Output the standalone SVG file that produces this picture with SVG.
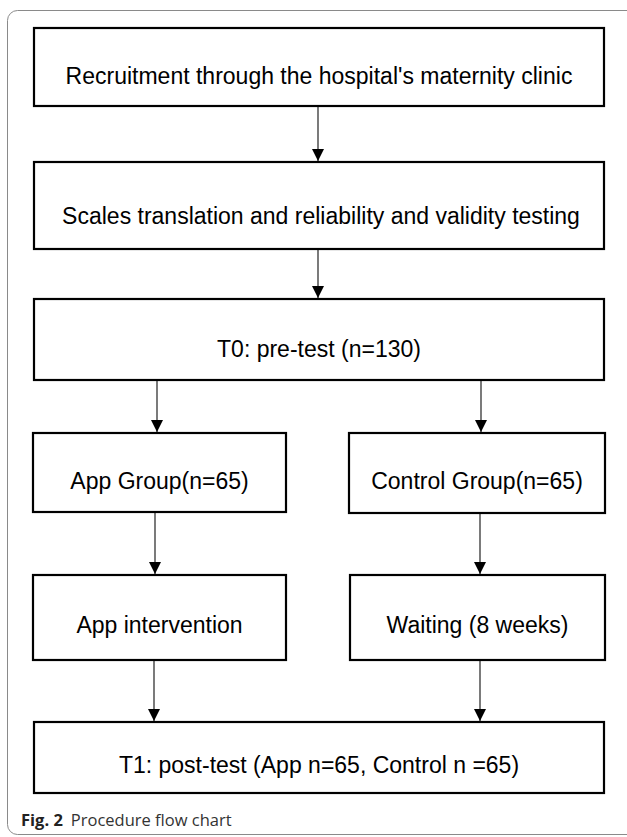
<svg xmlns="http://www.w3.org/2000/svg" width="627" height="837" viewBox="0 0 627 837">
  <defs>
    <marker id="ah" viewBox="0 0 12 12" refX="12" refY="6" markerWidth="12" markerHeight="12" markerUnits="userSpaceOnUse" orient="auto">
      <path d="M0,0 L12,6 L0,12 Z" fill="#000"/>
    </marker>
    <style>
      .box{fill:#fff;stroke:#000;stroke-width:2.2}
      .lbl{font-family:"Liberation Sans",Arial,sans-serif;font-size:23px;fill:#000;text-anchor:middle}
      .conn{stroke:#222;stroke-width:1.2;fill:none;marker-end:url(#ah)}
      .cap{font-family:"Open Sans","Noto Sans",sans-serif;font-size:16.5px;fill:#333}
    </style>
  </defs>
  <rect x="0" y="0" width="627" height="837" fill="#fff"/>
  <rect id="frame" x="7.5" y="10.5" width="640" height="824" rx="10" ry="10" fill="none" stroke="#8a8a8a" stroke-width="1"/>

  <g id="connectors">
    <line class="conn" x1="318" y1="106" x2="318" y2="161"/>
    <line class="conn" x1="318" y1="249" x2="318" y2="298"/>
    <line class="conn" x1="157" y1="381" x2="157" y2="432"/>
    <line class="conn" x1="481" y1="381" x2="481" y2="432"/>
    <line class="conn" x1="155" y1="512" x2="155" y2="574"/>
    <line class="conn" x1="480" y1="513" x2="480" y2="574"/>
    <line class="conn" x1="154" y1="661" x2="154" y2="721"/>
    <line class="conn" x1="480" y1="661" x2="480" y2="721"/>
  </g>

  <g id="n1">
    <rect class="box" x="34" y="28" width="570" height="78"/>
    <text class="lbl" x="319" y="84">Recruitment through the hospital's maternity clinic</text>
  </g>
  <g id="n2">
    <rect class="box" x="34" y="162" width="570" height="87"/>
    <text class="lbl" x="321" y="224">Scales translation and reliability and validity testing</text>
  </g>
  <g id="n3">
    <rect class="box" x="34" y="299" width="570" height="81"/>
    <text class="lbl" x="319" y="357">T0: pre-test (n=130)</text>
  </g>
  <g id="n4">
    <rect class="box" x="33" y="433" width="253" height="79"/>
    <text class="lbl" x="159.5" y="489">App Group(n=65)</text>
  </g>
  <g id="n5">
    <rect class="box" x="349" y="433" width="256" height="80"/>
    <text class="lbl" x="477" y="489">Control Group(n=65)</text>
  </g>
  <g id="n6">
    <rect class="box" x="33" y="575" width="253" height="85"/>
    <text class="lbl" x="159.5" y="633">App intervention</text>
  </g>
  <g id="n7">
    <rect class="box" x="350" y="575" width="255" height="85"/>
    <text class="lbl" x="477.5" y="633">Waiting (8 weeks)</text>
  </g>
  <g id="n8">
    <rect class="box" x="34" y="722" width="570" height="71"/>
    <text class="lbl" x="319" y="773">T1: post-test (App n=65, Control n =65)</text>
  </g>

  <text class="cap" x="21" y="826"><tspan font-weight="bold" fill="#222">Fig. 2</tspan><tspan dx="8">Procedure flow chart</tspan></text>
</svg>
